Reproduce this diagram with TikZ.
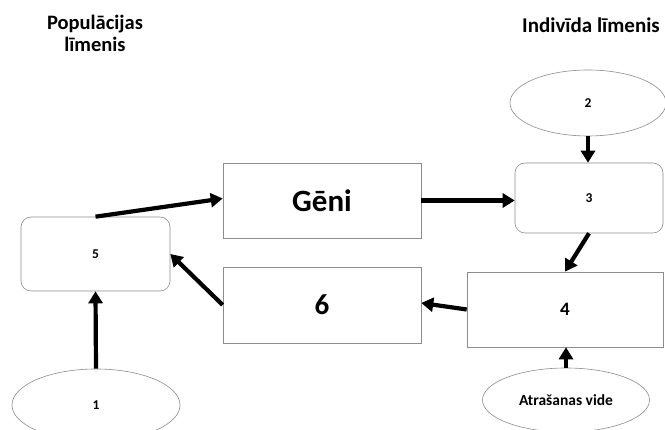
\documentclass[tikz,border=0pt]{standalone}
\usepackage{fontspec}
\setmainfont{Carlito}
\usetikzlibrary{arrows.meta,shapes.geometric}
\begin{document}
\begin{tikzpicture}[x=1pt,y=1pt,
  font=\bfseries,
  box/.style={draw=gray!90, line width=0.6pt, inner sep=0pt, rectangle},
  rbox/.style={box, rounded corners=10pt},
  oval/.style={draw=gray!90, line width=0.6pt, inner sep=0pt, ellipse},
  small/.style={font=\bfseries\fontsize{13.5}{16}\selectfont},
  flow/.style={line width=4.2pt, -{Triangle[length=12pt,width=14pt]}}]
\useasboundingbox (0,0) rectangle (665,430);
\node[align=center, font=\bfseries\fontsize{20.5}{22}\selectfont] (poph) at (95,397) {Populācijas\\līmenis};
\node[font=\bfseries\fontsize{21}{24}\selectfont] (indh) at (591,405) {Indivīda līmenis};
\node[oval, minimum width=156, minimum height=66, small] (e2) at (588,327) {2};
\node[rbox, minimum width=148, minimum height=70, small] (b3) at (589,232) {3};
\node[box, minimum width=198, minimum height=75, font=\bfseries\fontsize{31}{36}\selectfont] (geni) at (322,229.5) {Gēni};
\node[box, minimum width=198, minimum height=76, font=\bfseries\fontsize{29}{32}\selectfont] (b6) at (322,125) {6};
\node[box, minimum width=196, minimum height=75, font=\bfseries\fontsize{19}{22}\selectfont] (b4) at (565,120.5) {4};
\node[oval, minimum width=167, minimum height=64, font=\bfseries\fontsize{15.5}{18}\selectfont] (env) at (566,30) {Atrašanas vide};
\node[rbox, minimum width=149, minimum height=74, small] (b5) at (95.5,176) {5};
\node[oval, minimum width=168, minimum height=72, small] (e1) at (96,25) {1};
\draw[flow] (e1.north) -- (b5.south);
\draw[flow] (b5.north) -- ([yshift=2pt]geni.west);
\draw[flow] (b6.west) -- (b5.east);
\draw[flow] (geni.east) -- (geni.east -| b3.west);
\draw[flow] (e2.south) -- (e2.south |- b3.north);
\draw[flow] (b3.south) -- (b4.north);
\draw[flow] (b4.west) -- ([yshift=2pt]b6.east);
\draw[flow] (env.north) -- (env.north |- b4.south);
\end{tikzpicture}
\end{document}
